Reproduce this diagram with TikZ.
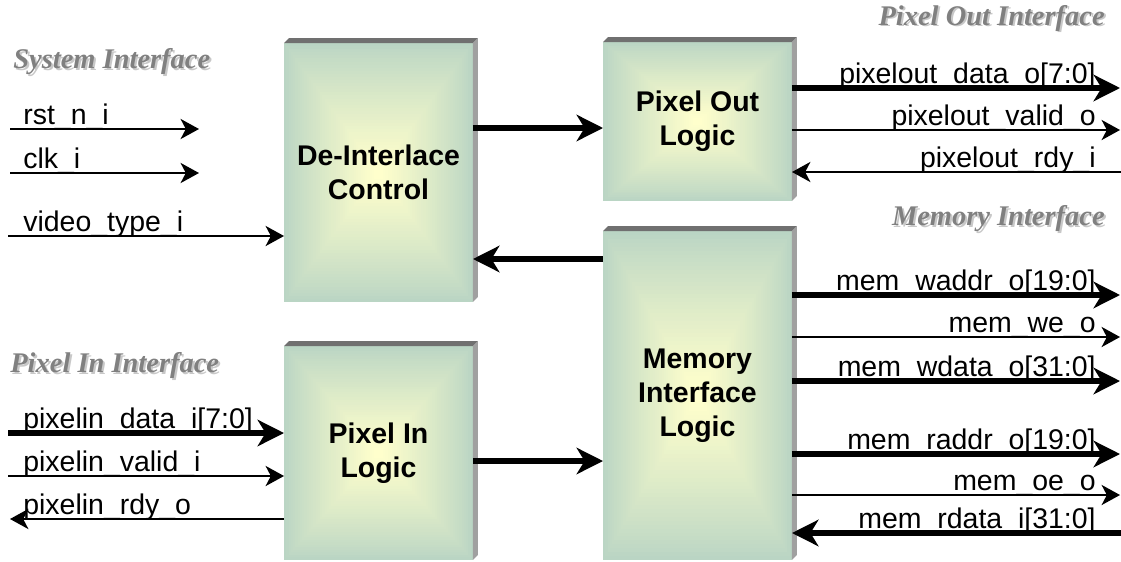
\documentclass[tikz,border=0pt]{standalone}
\usepackage{fontspec}
\setmainfont{Liberation Sans}
\newfontfamily\headfont{Liberation Serif}
\usepackage{tikz}
\usetikzlibrary{arrows.meta, calc}

\definecolor{sage}{RGB}{186,213,196}
\definecolor{lemon}{RGB}{255,255,204}
\definecolor{bevdark}{RGB}{112,112,112}
\definecolor{bevlight}{RGB}{160,160,160}
\definecolor{headgray}{RGB}{128,128,128}
\definecolor{headshade}{RGB}{200,200,200}

\newcommand\bodysize{\fontsize{16.2}{19.4}\selectfont}

\tikzset{
  block/.style={rectangle, inner sep=0pt, outer sep=0pt, minimum width=3.78cm,
    align=center, font=\bodysize\bfseries,
    path picture={
      \foreach \k in {0,...,40}{
        \pgfmathsetmacro\mixp{100*(\k/40)^0.9}
        \fill[lemon!\mixp!sage]
          ($(path picture bounding box.south west)!\k/84!(path picture bounding box.north east)$)
          rectangle
          ($(path picture bounding box.north east)!\k/84!(path picture bounding box.south west)$);
      }
    }},
  wire/.style={line width=0.9pt, -{Stealth[length=10.5pt,width=11.5pt,inset=3pt]}},
  bus/.style={line width=3pt, -{Stealth[length=15pt,width=15pt,inset=4.5pt]}},
  sig/.style={inner sep=0pt, font=\bodysize},
  iface/.style={inner sep=0pt, font=\bodysize\headfont\bfseries\itshape, text=headgray},
  ifaceshade/.style={iface, text=headshade},
}

\begin{document}
\begin{tikzpicture}[x=0.02cm, y=-0.02cm]
\useasboundingbox (0,0) rectangle (1121,561);

% draw blocks
\node (deint) [block, minimum height=5.18cm] at (378.5,172.5) {De-Interlace\\Control};
\node (pout) [block, minimum height=3.18cm] at (697.5,121.5) {Pixel Out\\Logic};
\node (mem) [block, minimum height=6.58cm] at (697.5,395.5) {Memory\\Interface\\Logic};
\node (pin) [block, minimum height=4.28cm] at (378.5,453) {Pixel In\\Logic};

% bevel edges
\foreach \b in {deint, pout, mem, pin}{
  \fill[bevdark] (\b.north west) -- ++(5,-5) -- ([shift={(5,-5)}]\b.north east) -- (\b.north east) -- cycle;
  \fill[bevlight] (\b.north east) -- ++(5,-5) -- ([shift={(5,-5)}]\b.south east) -- (\b.south east) -- cycle;
}

% interface titles
\node (sysifs) [ifaceshade, anchor=base west] at (15,70) {System Interface};
\node (sysif) [iface, anchor=base west] at (13,68) {System Interface};
\node (poifs) [ifaceshade, anchor=base east] at (1107,27) {Pixel Out Interface};
\node (poif) [iface, anchor=base east] at (1105,25) {Pixel Out Interface};
\node (memifs) [ifaceshade, anchor=base east] at (1107,227) {Memory Interface};
\node (memif) [iface, anchor=base east] at (1105,225) {Memory Interface};
\node (piifs) [ifaceshade, anchor=base west] at (12,374) {Pixel In Interface};
\node (piif) [iface, anchor=base west] at (10,372) {Pixel In Interface};

% block to block
\draw[bus] (deint.east |- 0,128) -- (pout.west |- 0,128);
\draw[bus] (mem.west |- 0,259) -- (deint.east |- 0,259);
\draw[bus] (pin.east |- 0,461) -- (mem.west |- 0,461);

% system interface
\foreach \y/\lab in {129/rst\_n\_i, 173/clk\_i}{
  \coordinate (sa\y) at (10,\y);
  \coordinate (sb\y) at (199,\y);
  \draw[wire] (sa\y) -- (sb\y);
  \node (sl\y) [sig, anchor=base west] at (23,\y-5) {\lab};
}
\coordinate (vt) at (8,236);
\draw[wire] (vt) -- (deint.west |- vt);
\node (vtl) [sig, anchor=base west] at (23,231) {video\_type\_i};

% pixel in interface
\foreach \y/\st/\lab in {433/bus/pixelin\_data\_i[7:0], 476/wire/pixelin\_valid\_i}{
  \coordinate (pi\y) at (8,\y);
  \draw[\st] (pi\y) -- (pin.west |- pi\y);
  \node (pil\y) [sig, anchor=base west] at (23,\y-5) {\lab};
}
\coordinate (pi519) at (10,519);
\draw[wire] (pin.west |- pi519) -- (pi519);
\node (pil519) [sig, anchor=base west] at (23,514) {pixelin\_rdy\_o};

% pixel out interface
\foreach \y/\st/\lab in {88/bus/pixelout\_data\_o[7:0], 130/wire/pixelout\_valid\_o}{
  \coordinate (po\y) at (1120,\y);
  \draw[\st] (pout.east |- po\y) -- (po\y);
  \node (pol\y) [sig, anchor=base east] at (1096,\y-5) {\lab};
}
\coordinate (po172) at (1121,172);
\draw[wire] (po172) -- (pout.east |- po172);
\node (pol172) [sig, anchor=base east] at (1096,167) {pixelout\_rdy\_i};

% memory interface
\foreach \y/\st/\lab in {295/bus/mem\_waddr\_o[19:0], 337/wire/mem\_we\_o, 381/bus/mem\_wdata\_o[31:0],
                         454/bus/mem\_raddr\_o[19:0], 495/wire/mem\_oe\_o}{
  \coordinate (mo\y) at (1120,\y);
  \draw[\st] (mem.east |- mo\y) -- (mo\y);
  \node (mol\y) [sig, anchor=base east] at (1096,\y-5) {\lab};
}
\coordinate (mo533) at (1121,533);
\draw[bus] (mo533) -- (mem.east |- mo533);
\node (mol533) [sig, anchor=base east] at (1096,528) {mem\_rdata\_i[31:0]};

\end{tikzpicture}
\end{document}
